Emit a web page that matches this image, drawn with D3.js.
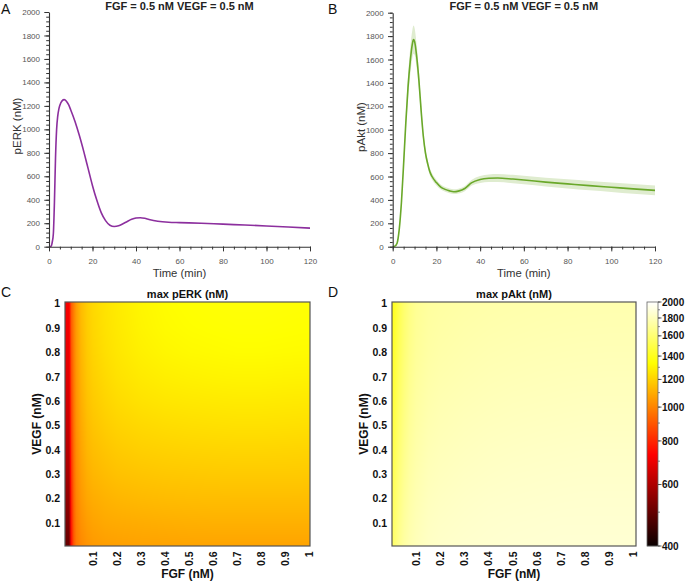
<!DOCTYPE html>
<html><head><meta charset="utf-8">
<script src="https://cdn.jsdelivr.net/npm/d3@7"></script>
<style>
body{margin:0;background:#fff}
svg{display:block}
text{font-family:"Liberation Sans",Arial,Helvetica,sans-serif}
</style>
</head><body>
<svg id="fig" width="685" height="581"></svg>
<script>
// ---------------- data ----------------
const panelTitle = "FGF = 0.5 nM VEGF = 0.5 nM";
const timeERK = [0, 1, 1.5, 2, 2.5, 3, 3.5, 4, 4.5, 5, 6, 7, 8, 9, 10, 12, 14, 16, 18, 20, 22, 24, 26, 28, 30, 32, 34, 36, 38, 40, 42, 44, 46, 50, 55, 60, 70, 80, 90, 100, 110, 120];
const pERK =    [0, 5, 40, 110, 380, 760, 1000, 1110, 1170, 1205, 1243, 1253, 1240, 1210, 1165, 1065, 945, 810, 665, 520, 395, 290, 222, 183, 172, 178, 195, 215, 233, 244, 247, 242, 232, 217, 208, 205, 200, 192, 185, 177, 168, 158];

const timeAkt = [0, 1, 2, 3, 4, 5, 6, 7, 8, 9, 9.5, 10, 11, 12, 13, 14, 15, 16, 17, 18, 20, 22, 24, 26, 28, 30, 33, 36, 40, 44, 48, 55, 60, 70, 80, 90, 100, 110, 120];
const pAkt =    [0, 5, 30, 150, 380, 710, 1060, 1360, 1580, 1733, 1770, 1755, 1620, 1420, 1165, 946, 800, 710, 640, 600, 548, 510, 490, 477, 470, 475, 497, 545, 575, 585, 587, 578, 570, 552, 537, 522, 508, 494, 481];
const pAktSD =  [0, 1, 4, 15, 35, 60, 80, 100, 115, 120, 120, 115, 100, 80, 60, 45, 38, 32, 30, 28, 25, 22, 20, 20, 20, 20, 22, 25, 30, 33, 35, 36, 37, 38, 39, 40, 40, 41, 42];

const timeTicks = [0, 20, 40, 60, 80, 100, 120];
const concTicks = [0, 200, 400, 600, 800, 1000, 1200, 1400, 1600, 1800, 2000];

const fgfLevels  = [0, 0.01, 0.02, 0.03, 0.05, 0.075, 0.1, 0.15, 0.2, 0.3, 0.4, 0.5, 0.6, 0.7, 0.8, 0.9, 1.0];
const vegfLevels = [0, 0.1, 0.2, 0.3, 0.4, 0.5, 0.6, 0.7, 0.8, 0.9, 1.0];
// rows: VEGF (bottom -> top), columns: FGF
const maxERK = [
 [500, 760, 900, 970, 1010, 1035, 1050, 1060, 1065, 1070, 1072, 1075, 1075, 1075, 1075, 1075, 1075],
 [530, 780, 915, 985, 1030, 1060, 1075, 1090, 1095, 1100, 1105, 1108, 1110, 1110, 1110, 1110, 1110],
 [560, 800, 930, 1000, 1050, 1085, 1100, 1115, 1125, 1135, 1140, 1143, 1145, 1145, 1145, 1145, 1145],
 [590, 820, 940, 1012, 1065, 1105, 1125, 1142, 1155, 1165, 1172, 1175, 1178, 1180, 1180, 1180, 1178],
 [615, 835, 950, 1022, 1080, 1125, 1145, 1165, 1180, 1195, 1202, 1207, 1210, 1212, 1212, 1210, 1208],
 [640, 850, 960, 1032, 1092, 1140, 1163, 1188, 1205, 1222, 1232, 1238, 1242, 1245, 1245, 1243, 1240],
 [660, 865, 968, 1040, 1105, 1155, 1180, 1208, 1228, 1250, 1262, 1268, 1272, 1275, 1275, 1272, 1270],
 [680, 880, 975, 1046, 1115, 1168, 1195, 1225, 1248, 1273, 1288, 1296, 1302, 1305, 1305, 1302, 1300],
 [695, 892, 982, 1052, 1125, 1178, 1207, 1240, 1262, 1292, 1310, 1320, 1325, 1330, 1330, 1327, 1325],
 [710, 905, 988, 1056, 1133, 1186, 1215, 1248, 1270, 1304, 1324, 1334, 1340, 1344, 1344, 1341, 1338],
 [720, 915, 990, 1060, 1140, 1190, 1220, 1252, 1275, 1310, 1330, 1342, 1348, 1352, 1352, 1349, 1346]
];
const maxAkt = [
 [1560, 1600, 1640, 1680, 1730, 1770, 1795, 1825, 1838, 1850, 1855, 1860, 1862, 1865, 1865, 1865, 1865],
 [1540, 1580, 1622, 1662, 1714, 1757, 1783, 1815, 1828, 1840, 1848, 1852, 1855, 1858, 1858, 1858, 1858],
 [1520, 1560, 1604, 1644, 1698, 1744, 1771, 1803, 1816, 1830, 1838, 1842, 1845, 1848, 1850, 1850, 1850],
 [1500, 1540, 1586, 1626, 1682, 1731, 1759, 1791, 1804, 1818, 1826, 1832, 1835, 1838, 1840, 1840, 1840],
 [1480, 1520, 1568, 1608, 1666, 1718, 1747, 1779, 1793, 1806, 1815, 1820, 1824, 1827, 1830, 1830, 1830],
 [1460, 1500, 1550, 1592, 1650, 1705, 1736, 1767, 1781, 1795, 1803, 1808, 1812, 1815, 1818, 1818, 1818],
 [1440, 1482, 1532, 1576, 1636, 1692, 1725, 1755, 1770, 1783, 1791, 1797, 1800, 1803, 1806, 1806, 1806],
 [1425, 1465, 1515, 1560, 1622, 1680, 1714, 1744, 1758, 1771, 1780, 1785, 1789, 1792, 1794, 1795, 1795],
 [1410, 1450, 1500, 1545, 1608, 1668, 1703, 1733, 1747, 1760, 1769, 1774, 1778, 1781, 1783, 1784, 1784],
 [1395, 1435, 1485, 1532, 1598, 1658, 1695, 1725, 1737, 1750, 1758, 1763, 1767, 1770, 1772, 1773, 1773],
 [1380, 1420, 1470, 1520, 1590, 1650, 1690, 1718, 1728, 1740, 1748, 1753, 1757, 1760, 1762, 1763, 1763]
];
const doseTicks = [0.1, 0.2, 0.3, 0.4, 0.5, 0.6, 0.7, 0.8, 0.9, 1];
const doseTickLabels = ["0.1","0.2","0.3","0.4","0.5","0.6","0.7","0.8","0.9","1"];
const colorbarTicks = [400, 600, 800, 1000, 1200, 1400, 1600, 1800, 2000];
const colorbarDomain = [400, 2000];

// ---------------- drawing ----------------
const svg = d3.select("#fig");
const axisColor = "#333";
const tickTextColor = "#555";
const intFmt = d3.format("d");

function timePanel(opt) {
  const g = svg.append("g");
  const x = d3.scaleLinear([0, 120], [opt.x0, opt.x1]);
  const y = d3.scaleLinear([0, 2000], [opt.y0, opt.y1]);

  if (opt.sd) {
    const area = d3.area()
      .x((d, i) => x(opt.t[i]))
      .y0((d, i) => y(Math.max(0, opt.v[i] - opt.sd[i])))
      .y1((d, i) => y(opt.v[i] + opt.sd[i]))
      .curve(d3.curveMonotoneX);
    g.append("path").datum(opt.v).attr("d", area)
      .attr("fill", "#dfeccf").attr("stroke", "none");
  }
  const line = d3.line().x((d, i) => x(opt.t[i])).y(d => y(d)).curve(d3.curveMonotoneX);
  g.append("path").datum(opt.v).attr("d", line)
    .attr("fill", "none").attr("stroke", opt.color).attr("stroke-width", 1.6);

  // minor ticks
  const yMinor = d3.range(0, 2001, 40);
  const xMinor = d3.range(0, 121, 5);
  g.append("g").attr("transform", `translate(${opt.x0},0)`)
    .call(d3.axisLeft(y).tickValues(yMinor).tickFormat("").tickSize(2.8).tickSizeOuter(0))
    .call(s => s.select(".domain").remove())
    .call(s => s.selectAll("line").attr("stroke", axisColor));
  g.append("g").attr("transform", `translate(0,${opt.y0})`)
    .call(d3.axisBottom(x).tickValues(xMinor).tickFormat("").tickSize(2.8).tickSizeOuter(0))
    .call(s => s.select(".domain").remove())
    .call(s => s.selectAll("line").attr("stroke", axisColor));
  // major axes
  const ay = g.append("g").attr("transform", `translate(${opt.x0},0)`)
    .call(d3.axisLeft(y).tickValues(concTicks).tickFormat(intFmt).tickSize(4.7).tickSizeOuter(0).tickPadding(4.3));
  const ax = g.append("g").attr("transform", `translate(0,${opt.y0})`)
    .call(d3.axisBottom(x).tickValues(timeTicks).tickFormat(intFmt).tickSize(4.7).tickSizeOuter(0).tickPadding(7.3));
  [ay, ax].forEach(a => {
    a.select(".domain").attr("stroke", axisColor).attr("stroke-width", 1.1);
    a.selectAll("line").attr("stroke", axisColor).attr("stroke-width", 1);
    a.selectAll("text").attr("fill", tickTextColor).attr("font-size", 8)
      .attr("font-family", '"Liberation Sans",Arial,sans-serif');
  });

  g.append("text").attr("x", (opt.x0 + opt.x1) / 2).attr("y", 10)
    .attr("text-anchor", "middle").attr("font-size", 11).attr("font-weight", "bold")
    .attr("fill", "#222").text(panelTitle);
  g.append("text").attr("x", (opt.x0 + opt.x1) / 2).attr("y", 277)
    .attr("text-anchor", "middle").attr("font-size", 11.3).attr("fill", "#333").text("Time (min)");
  g.append("text").attr("transform", `translate(${opt.ylabX},${opt.ylabY}) rotate(-90)`)
    .attr("text-anchor", "middle").attr("font-size", 11.5).attr("fill", "#333").text(opt.ylabel);
}

timePanel({x0: 49, x1: 310, y0: 246.7, y1: 12, t: timeERK, v: pERK, color: "#8c2f9e",
  ylabel: "pERK (nM)", ylabX: 20.8, ylabY: 126});
timePanel({x0: 392.7, x1: 655, y0: 246.7, y1: 12.7, t: timeAkt, v: pAkt, sd: pAktSD, color: "#6aa82a",
  ylabel: "pAkt (nM)", ylabX: 364.5, ylabY: 127});

// colour map (hot) on log scale
const logPos = d3.scaleLog().domain(colorbarDomain).range([0, 1]).clamp(true);
const hot = d3.scaleLinear().domain([0, 0.375, 0.75, 1])
  .range(["#0a0000", "#ff0000", "#ffff00", "#ffffff"]).interpolate(d3.interpolateRgb).clamp(true);
const colorOf = v => hot(logPos(v));

function gridValue(grid, fx, vy) {
  const xs = fgfLevels, ys = vegfLevels;
  fx = Math.max(xs[0], Math.min(xs[xs.length - 1], fx));
  vy = Math.max(ys[0], Math.min(ys[ys.length - 1], vy));
  const i = Math.min(d3.bisectRight(xs, fx) - 1, xs.length - 2);
  const j = Math.min(d3.bisectRight(ys, vy) - 1, ys.length - 2);
  const tx = (fx - xs[i]) / (xs[i + 1] - xs[i]);
  const ty = (vy - ys[j]) / (ys[j + 1] - ys[j]);
  const a = grid[j][i] * (1 - tx) + grid[j][i + 1] * tx;
  const b = grid[j + 1][i] * (1 - tx) + grid[j + 1][i + 1] * tx;
  return a * (1 - ty) + b * ty;
}

function heatPanel(opt) {
  const g = svg.append("g");
  const x = d3.scaleLinear(opt.xDomain, [opt.x0, opt.x1]);
  const y = d3.scaleLinear([0.006, 1.007], [opt.y1, opt.y0]);
  const w = Math.round(opt.x1 - opt.x0), h = Math.round(opt.y1 - opt.y0);
  const cv = document.createElement("canvas");
  cv.width = w; cv.height = h;
  const ctx = cv.getContext("2d");
  const img = ctx.createImageData(w, h);
  for (let r = 0; r < h; r++) {
    const vy = y.invert(opt.y0 + r + 0.5);
    for (let c = 0; c < w; c++) {
      const fx = x.invert(opt.x0 + c + 0.5);
      const col = d3.rgb(colorOf(gridValue(opt.grid, fx, vy)));
      const k = (r * w + c) * 4;
      img.data[k] = col.r; img.data[k + 1] = col.g; img.data[k + 2] = col.b; img.data[k + 3] = 255;
    }
  }
  ctx.putImageData(img, 0, 0);
  g.append("image").attr("x", opt.x0).attr("y", opt.y0).attr("width", w).attr("height", h)
    .attr("preserveAspectRatio", "none").attr("href", cv.toDataURL());
  g.append("rect").attr("x", opt.x0).attr("y", opt.y0).attr("width", w).attr("height", h)
    .attr("fill", "none").attr("stroke", "#555").attr("stroke-width", 1.2);

  g.selectAll("text.yt").data(doseTicks).join("text").attr("class", "yt")
    .attr("x", opt.x0 - 5).attr("y", d => y(d)).attr("dy", "0.36em")
    .attr("text-anchor", "end").attr("font-size", 10.5).attr("font-weight", "bold").attr("fill", "#111")
    .text((d, i) => doseTickLabels[i]);
  g.selectAll("text.xt").data(doseTicks).join("text").attr("class", "xt")
    .attr("transform", d => `translate(${x(d)},${opt.y1 + 5.5}) rotate(-90)`)
    .attr("dy", "0.36em").attr("text-anchor", "end")
    .attr("font-size", 10.5).attr("font-weight", "bold").attr("fill", "#111")
    .text((d, i) => doseTickLabels[i]);

  g.append("text").attr("x", (opt.x0 + opt.x1) / 2).attr("y", 298)
    .attr("text-anchor", "middle").attr("font-size", 11).attr("font-weight", "bold")
    .attr("fill", "#111").text(opt.title);
  g.append("text").attr("x", (opt.x0 + opt.x1) / 2).attr("y", 577.5)
    .attr("text-anchor", "middle").attr("font-size", 12).attr("font-weight", "bold")
    .attr("fill", "#111").text("FGF (nM)");
  g.append("text").attr("transform", `translate(${opt.ylabX},424) rotate(-90)`)
    .attr("text-anchor", "middle").attr("font-size", 12).attr("font-weight", "bold")
    .attr("fill", "#111").text("VEGF (nM)");
}

heatPanel({x0: 65, x1: 310, y0: 302, y1: 546, xDomain: [-0.017, 1.003], grid: maxERK,
  title: "max pERK (nM)", ylabX: 41});
heatPanel({x0: 392, x1: 636, y0: 302, y1: 546, xDomain: [0, 1.01], grid: maxAkt,
  title: "max pAkt (nM)", ylabX: 367.5});

// colour bar
(function () {
  const cx0 = 647, cx1 = 658, cy0 = 302, cy1 = 546;
  const cb = d3.scaleLog().domain(colorbarDomain).range([cy1, cy0]);
  const g = svg.append("g");
  g.selectAll("rect.cb").data(d3.range(cy0, cy1)).join("rect").attr("class", "cb")
    .attr("x", cx0).attr("y", d => d).attr("width", cx1 - cx0).attr("height", 1.2)
    .attr("fill", d => colorOf(cb.invert(d + 0.5)));
  g.append("rect").attr("x", cx0).attr("y", cy0).attr("width", cx1 - cx0).attr("height", cy1 - cy0)
    .attr("fill", "none").attr("stroke", "#666").attr("stroke-width", 0.8);
  const minor = d3.range(400, 2001, 100);
  g.selectAll("line.mn").data(minor).join("line").attr("class", "mn")
    .attr("x1", cx1).attr("x2", cx1 + 2).attr("y1", d => cb(d)).attr("y2", d => cb(d))
    .attr("stroke", "#555").attr("stroke-width", 0.7);
  g.selectAll("line.mj").data(colorbarTicks).join("line").attr("class", "mj")
    .attr("x1", cx1).attr("x2", cx1 + 3.5).attr("y1", d => cb(d)).attr("y2", d => cb(d))
    .attr("stroke", "#444").attr("stroke-width", 0.9);
  g.selectAll("text.cbt").data(colorbarTicks).join("text").attr("class", "cbt")
    .attr("x", cx1 + 4).attr("y", d => cb(d)).attr("dy", "0.36em")
    .attr("font-size", 10).attr("font-weight", "bold").attr("fill", "#111")
    .text(d => d);
})();

// panel letters
[["A", 1, 14], ["B", 328, 14], ["C", 1, 297], ["D", 328, 297]].forEach(([l, px, py]) => {
  svg.append("text").attr("x", px).attr("y", py).attr("font-size", 14).attr("fill", "#111").text(l);
});
</script>
</body></html>
